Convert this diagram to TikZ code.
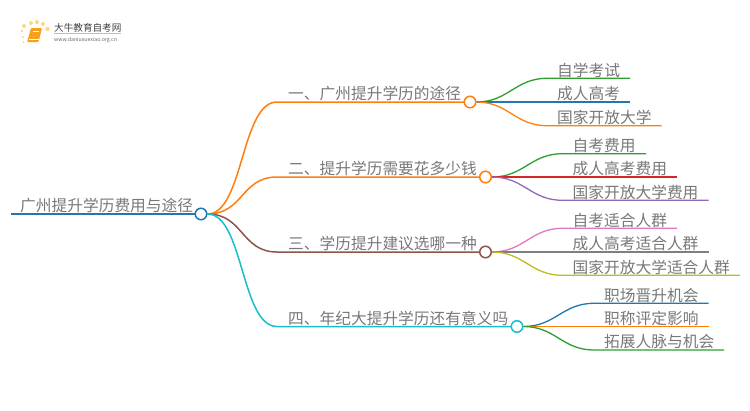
\documentclass[tikz,border=0pt]{standalone}
\usepackage{fontspec}
\setmainfont{Noto Sans CJK SC}
\tikzstyle{mindMap} = [x = 1pt, y = -1pt]
\definecolor{textColor}{RGB}{120,120,120}
\definecolor{d3Blue}{RGB}{31,119,180}
\definecolor{d3Orange}{RGB}{255,127,14}
\definecolor{d3Green}{RGB}{44,160,44}
\definecolor{d3Red}{RGB}{214,39,40}
\definecolor{d3Purple}{RGB}{148,103,189}
\definecolor{d3Brown}{RGB}{140,86,75}
\definecolor{d3Pink}{RGB}{227,119,194}
\definecolor{d3Grey}{RGB}{127,127,127}
\definecolor{d3Olive}{RGB}{188,189,34}
\definecolor{d3Cyan}{RGB}{23,190,207}
\definecolor{logoOrange}{RGB}{245,160,30}
\definecolor{logoYellow}{RGB}{252,215,130}
\tikzstyle{linkStyle} = [line width = 1.5pt]
\tikzstyle{hubStyle} = [circle, fill=white, line width = 1.5pt, inner sep = 0pt, minimum size = 11.5pt]
\tikzstyle{mapText} = [anchor = base west, inner sep = 0pt, text = textColor, font = \fontsize{15.72}{16}\selectfont]
\newcommand{\hubNode}[4]{\node [hubStyle, draw=#4] (#1) at (#2, #3) {};}
\newcommand{\branch}[8]{
  % #1 name, #2 parent, #3 text x, #4 y, #5 hub x, #6 colour, #7 text
  \coordinate (#1Bend) at (#3 - 11, #4);
  \draw [linkStyle, color=#6] (#2.east) .. controls +(#8, 0) and +(-#8, 0) .. (#1Bend) -- (#5 - 5, #4);
  \hubNode{#1}{#5}{#4}{#6}
  \node [mapText] (#1Text) at (#3, #4 - 2.2) {#7};
}
\newcommand{\leaf}[8]{
  % #1 name, #2 parent, #3 text x, #4 y, #5 line end x, #6 colour, #7 text
  \coordinate (#1Bend) at (#3 - 10, #4);
  \coordinate (#1End) at (#5, #4);
  \draw [linkStyle, line width = 1.3pt, color=#6] (#2.east) .. controls +(#8, 0) and +(-#8, 0) .. (#1Bend) -- (#1End);
  \node [mapText] (#1Text) at (#3, #4 - 2.2) {#7};
}
\begin{document}
\begin{tikzpicture}[mindMap]
  \useasboundingbox (0, 0) rectangle (750, 410);

  % logo
  \foreach \dotX/\dotY/\dotSize in {24/26/2, 31/23/2, 37/22/2, 43/24/2, 47.5/29/2.2, 22/31/1.3, 23/37/1.2, 23.5/42/1}
    \fill [logoYellow] (\dotX, \dotY) circle (\dotSize);
  \fill [logoOrange, rounded corners = 1pt] (31, 28) -- (42, 28) -- (38.5, 42) -- (27, 42) -- cycle;
  \draw [white, line width = .5pt] (28.5, 39.5) -- (38.5, 39.5);
  \draw [white, line width = .6pt] (33, 31) -- (39, 31);
  \node [anchor = base west, inner sep = 0pt, text = black!75, font = \fontsize{9.6}{10}\selectfont] (logoTitle) at (54, 31) {大牛教育自考网};
  \draw [black!25, line width = .4pt] (54, 33.5) -- (121, 33.5);
  \node [anchor = base west, inner sep = 0pt, text = black!60, font = \fontsize{5.2}{6}\selectfont] (logoUrl) at (54, 41) {www.daniuxuexiao.org.cn};

  % root
  \coordinate (rootStart) at (11, 214);
  \coordinate (rootEnd) at (196, 214);
  \draw [linkStyle, color=d3Blue] (rootStart) -- (rootEnd);
  \hubNode{root}{201}{214}{d3Blue}
  \node [mapText] (rootText) at (20, 211.8) {广州提升学历费用与途径};

  \branch{one}{root}{288}{102}{470}{d3Orange}{一、广州提升学历的途径}{36}
  \branch{two}{root}{288}{177}{485.5}{d3Orange}{二、提升学历需要花多少钱}{36}
  \branch{three}{root}{288}{252}{485.5}{d3Brown}{三、学历提升建议选哪一种}{36}
  \branch{four}{root}{288}{326.5}{517}{d3Cyan}{四、年纪大提升学历还有意义吗}{36}

  \leaf{oneA}{one}{557}{78.3}{630}{d3Green}{自学考试}{32}
  \leaf{oneB}{one}{557}{102}{630}{d3Blue}{成人高考}{32}
  \leaf{oneC}{one}{557}{125.7}{661.5}{d3Orange}{国家开放大学}{32}

  \leaf{twoA}{two}{572.5}{153.7}{646}{d3Green}{自考费用}{32}
  \leaf{twoB}{two}{572.5}{177}{677}{d3Red}{成人高考费用}{32}
  \leaf{twoC}{two}{572.5}{200.3}{708.5}{d3Purple}{国家开放大学费用}{32}

  \leaf{threeA}{three}{572.5}{228.3}{677}{d3Pink}{自考适合人群}{32}
  \leaf{threeB}{three}{572.5}{252}{708.5}{d3Grey}{成人高考适合人群}{32}
  \leaf{threeC}{three}{572.5}{275.3}{740}{d3Olive}{国家开放大学适合人群}{32}

  \leaf{fourA}{four}{604}{303.3}{708.5}{d3Blue}{职场晋升机会}{32}
  \leaf{fourB}{four}{604}{326.5}{708.5}{d3Orange}{职称评定影响}{32}
  \leaf{fourC}{four}{604}{350}{724}{d3Green}{拓展人脉与机会}{32}
\end{tikzpicture}
\end{document}
